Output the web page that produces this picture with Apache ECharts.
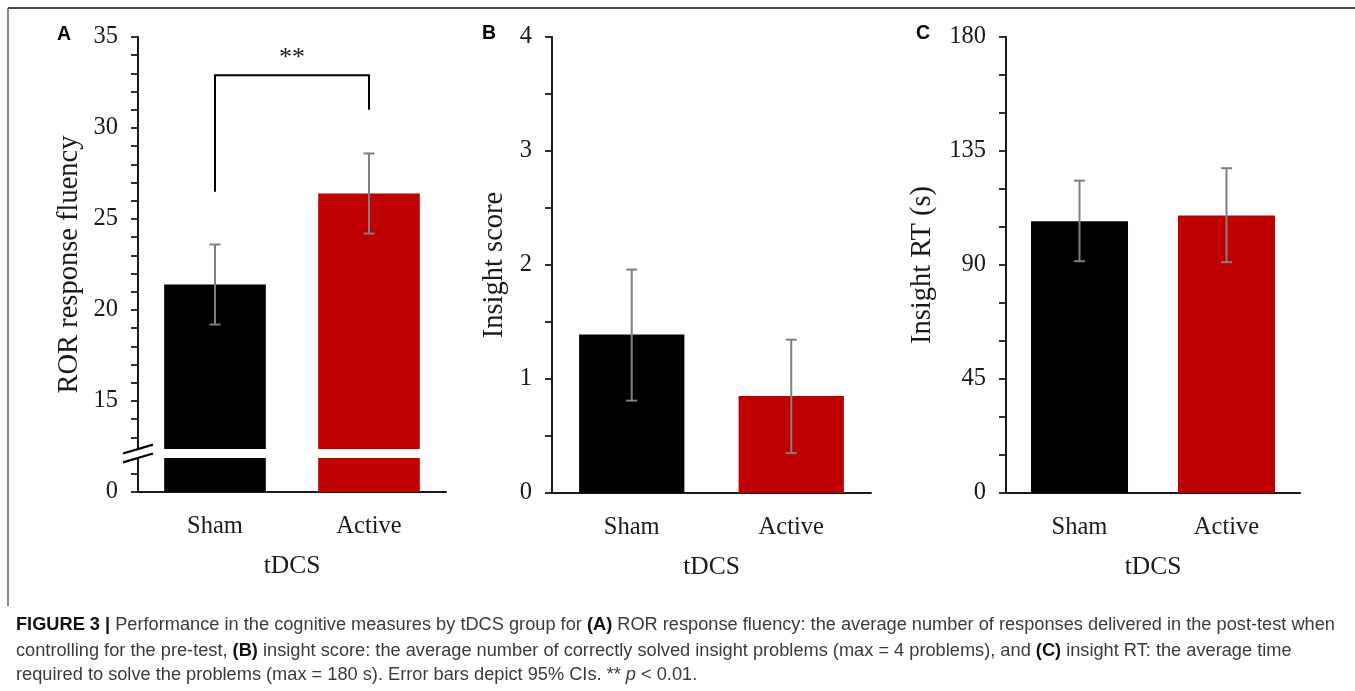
<!DOCTYPE html>
<html><head><meta charset="utf-8">
<script src="https://cdn.jsdelivr.net/npm/echarts@6/dist/echarts.min.js"></script>
<style>html,body{margin:0;padding:0;background:#fff}#c{width:1355px;height:691px}</style>
</head><body><div id="c"></div>
<script>
// ---------------- data ----------------
const categories = ['Sham', 'Active'];
const barColors = ['#000000', '#c00000'];

// Panel A: ROR response fluency (broken axis: value 10 is drawn as "0")
const rorMean = [21.4, 26.4];
const rorLow = [19.2, 24.2];
const rorHigh = [23.6, 28.6];
const rorTickValues = [10, 15, 20, 25, 30, 35];
const rorTickLabels = ['0', '15', '20', '25', '30', '35'];
const rorBreak = [11.87, 12.36];
const sigBracket = [26.5, 32.9, 31.0]; // left foot, top, right foot
const sigLabel = '**';
const sigLabelValue = 33.85;

// Panel B: Insight score
const insightMean = [1.39, 0.85];
const insightLow = [0.81, 0.35];
const insightHigh = [1.96, 1.345];
const insightTickValues = [0, 1, 2, 3, 4];

// Panel C: Insight RT (s)
const rtMean = [107.3, 109.5];
const rtLow = [91.5, 91.1];
const rtHigh = [123.3, 128.2];
const rtTickValues = [0, 45, 90, 135, 180];

const panelLetters = ['A', 'B', 'C'];
const yNames = ['ROR response fluency', 'Insight score', 'Insight RT (s)'];
const xName = 'tDCS';

const captionLines = [
  '{b|FIGURE 3 | }{n|Performance in the cognitive measures by tDCS group for }{b|(A)}{n| ROR response fluency: the average number of responses delivered in the post-test when}',
  '{n|controlling for the pre-test, }{b|(B)}{n| insight score: the average number of correctly solved insight problems (max = 4 problems), and }{b|(C)}{n| insight RT: the average time}',
  '{n|required to solve the problems (max = 180 s). Error bars depict 95% CIs. ** }{i|p}{n| < 0.01.}'
];

// ---------------- styling ----------------
const SERIF = '"Liberation Serif", "DejaVu Serif", serif';
const SANS = '"Liberation Sans", Arial, sans-serif';
const axisColor = '#1a1a1a';
const textColor = '#1a1a1a';

const grids = [
  { left: 138, top: 37, width: 308, height: 455 },
  { left: 552, top: 37, width: 319, height: 456 },
  { left: 1006, top: 37, width: 294, height: 456 }
];

function xAxisOf(i) {
  return {
    type: 'category', gridIndex: i, data: categories,
    axisLine: { lineStyle: { color: axisColor, width: 2 } },
    axisTick: { show: false },
    axisLabel: { fontFamily: SERIF, fontSize: 24.5, color: textColor, margin: 22 },
    name: xName, nameLocation: 'middle', nameGap: 61,
    nameTextStyle: { fontFamily: SERIF, fontSize: 25.5, color: textColor }
  };
}
function yAxisOf(i, min, max, interval, minorSplit, nameGap, fmt) {
  return {
    type: 'value', gridIndex: i, min: min, max: max, interval: interval,
    axisLine: { show: true, lineStyle: { color: axisColor, width: 2 } },
    axisTick: { show: true, length: 7, lineStyle: { color: axisColor, width: 1.8 } },
    minorTick: { show: true, splitNumber: minorSplit, length: 7, lineStyle: { color: axisColor, width: 1.8 } },
    splitLine: { show: false },
    axisLabel: { fontFamily: SERIF, fontSize: 24.5, color: textColor, margin: 20, formatter: fmt },
    name: yNames[i], nameLocation: 'middle', nameGap: nameGap,
    nameTextStyle: { fontFamily: SERIF, fontSize: 28.5, color: textColor }
  };
}

function barSeries(i, vals) {
  return {
    type: 'bar', xAxisIndex: i, yAxisIndex: i, barWidth: '66%', silent: true,
    data: vals.map((v, k) => ({ value: v, itemStyle: { color: barColors[k] } }))
  };
}
function errorSeries(i, lo, hi) {
  return {
    type: 'custom', xAxisIndex: i, yAxisIndex: i, z: 5, silent: true,
    data: categories.map((c, k) => [k, lo[k], hi[k]]),
    renderItem: function (params, api) {
      const x = api.value(0);
      const a = api.coord([x, api.value(1)]);
      const b = api.coord([x, api.value(2)]);
      const w = 5.5;
      const st = { stroke: '#808080', lineWidth: 2 };
      return { type: 'group', children: [
        { type: 'line', shape: { x1: a[0], y1: a[1], x2: b[0], y2: b[1] }, style: st },
        { type: 'line', shape: { x1: a[0] - w, y1: a[1], x2: a[0] + w, y2: a[1] }, style: st },
        { type: 'line', shape: { x1: b[0] - w, y1: b[1], x2: b[0] + w, y2: b[1] }, style: st }
      ] };
    }
  };
}

const series = [
  barSeries(0, rorMean), barSeries(1, insightMean), barSeries(2, rtMean),
  // white gap through the bars of panel A
  {
    type: 'custom', xAxisIndex: 0, yAxisIndex: 0, z: 4, silent: true,
    data: categories.map((c, k) => [k, rorBreak[0], rorBreak[1]]),
    renderItem: function (params, api) {
      const x = api.value(0);
      const a = api.coord([x, api.value(1)]);
      const b = api.coord([x, api.value(2)]);
      const w = api.size([1, 0])[0] * 0.72;
      return { type: 'rect', shape: { x: a[0] - w / 2, y: b[1], width: w, height: a[1] - b[1] }, style: { fill: '#ffffff' } };
    }
  },
  // axis break symbol
  {
    type: 'custom', xAxisIndex: 0, yAxisIndex: 0, z: 6, silent: true,
    data: [[0, rorBreak[0], rorBreak[1]]],
    renderItem: function (params, api) {
      const ax = params.coordSys.x;
      const a = api.coord([0, api.value(1)]);
      const b = api.coord([0, api.value(2)]);
      const hw = 15, dy = 4.4;
      const st = { stroke: '#000', lineWidth: 2.2 };
      return { type: 'group', children: [
        { type: 'rect', shape: { x: ax - 9, y: b[1], width: 12, height: a[1] - b[1] }, style: { fill: '#fff' } },
        { type: 'line', shape: { x1: ax - hw, y1: b[1] + dy, x2: ax + hw, y2: b[1] - dy }, style: st },
        { type: 'line', shape: { x1: ax - hw, y1: a[1] + dy, x2: ax + hw, y2: a[1] - dy }, style: st }
      ] };
    }
  },
  // significance bracket
  {
    type: 'custom', xAxisIndex: 0, yAxisIndex: 0, z: 6, silent: true,
    data: [[0, sigBracket[0], sigBracket[1], sigBracket[2], sigLabelValue]],
    renderItem: function (params, api) {
      const p1 = api.coord([0, api.value(1)]);
      const p2 = api.coord([0, api.value(2)]);
      const p3 = api.coord([1, api.value(2)]);
      const p4 = api.coord([1, api.value(3)]);
      const pl = api.coord([0, api.value(4)]);
      return { type: 'group', children: [
        { type: 'polyline', shape: { points: [p1, p2, p3, p4] }, style: { stroke: '#000', lineWidth: 2, fill: null } },
        { type: 'text', x: (p2[0] + p3[0]) / 2, y: pl[1],
          style: { text: sigLabel, font: '26px ' + SERIF, fill: textColor, align: 'center', verticalAlign: 'middle' } }
      ] };
    }
  },
  errorSeries(0, rorLow, rorHigh), errorSeries(1, insightLow, insightHigh), errorSeries(2, rtLow, rtHigh)
];

// ---------------- caption measuring ----------------
const capFs = 17.5;
const capFonts = {
  b: 'bold ' + capFs + 'px ' + SANS,
  n: capFs + 'px ' + SANS,
  i: 'italic ' + capFs + 'px ' + SANS
};
const mctx = document.createElement('canvas').getContext('2d');
function richWidth(s) {
  let w = 0; const re = /\{([a-z])\|([^}]*)\}/g; let m;
  while ((m = re.exec(s))) { mctx.font = capFonts[m[1]]; w += mctx.measureText(m[2]).width; }
  return w;
}
const capScale = 1319 / richWidth(captionLines[0]);
const capY = [625, 651, 675];
const rich = {
  b: { fontFamily: SANS, fontWeight: 'bold', fontSize: capFs, fill: '#111' },
  n: { fontFamily: SANS, fontSize: capFs, fill: '#3a3a3a' },
  i: { fontFamily: SANS, fontStyle: 'italic', fontSize: capFs, fill: '#3a3a3a' }
};

const letterPos = [[64, 35], [489, 34], [923, 34]];
const graphic = [
  { type: 'line', shape: { x1: 8, y1: 8, x2: 1355, y2: 8 }, style: { stroke: '#4a4a4a', lineWidth: 2 } },
  { type: 'line', shape: { x1: 8, y1: 8, x2: 8, y2: 606 }, style: { stroke: '#4a4a4a', lineWidth: 1.3 } }
];
panelLetters.forEach((l, k) => graphic.push({
  type: 'text', x: letterPos[k][0], y: letterPos[k][1],
  style: { text: l, font: 'bold 19.5px ' + SANS, fill: '#000', align: 'center', verticalAlign: 'middle' }
}));
captionLines.forEach((s, k) => graphic.push({
  type: 'text', x: 16, y: capY[k], scaleX: capScale, originX: 0,
  style: { text: s, rich: rich, align: 'left', verticalAlign: 'middle', fontSize: capFs, fontFamily: SANS }
}));

const chart = echarts.init(document.getElementById('c'), null, { renderer: 'canvas' });
chart.setOption({
  animation: false,
  backgroundColor: '#ffffff',
  grid: grids.map(g => Object.assign({ containLabel: false, outerBoundsMode: 'none' }, g)),
  xAxis: [xAxisOf(0), xAxisOf(1), xAxisOf(2)],
  yAxis: [
    yAxisOf(0, 10, 35, 5, 5, 54, v => rorTickLabels[rorTickValues.indexOf(v)]),
    yAxisOf(1, 0, 4, 1, 2, 43, v => String(insightTickValues[insightTickValues.indexOf(v)])),
    yAxisOf(2, 0, 180, 45, 3, 69, v => String(rtTickValues[rtTickValues.indexOf(v)]))
  ],
  series: series,
  graphic: graphic
});
</script></body></html>
